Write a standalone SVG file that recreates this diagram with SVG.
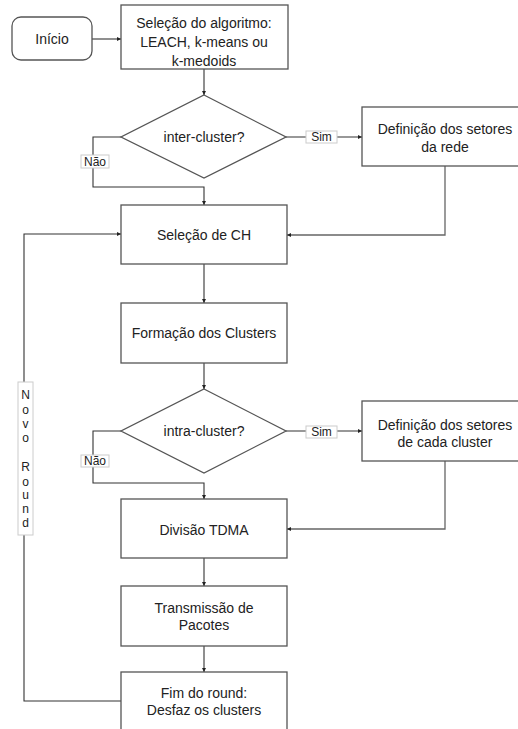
<svg xmlns="http://www.w3.org/2000/svg" width="518" height="729" viewBox="0 0 518 729">
<style>
.box{fill:#fff;stroke:#555;stroke-width:1.3}
.t{font-family:"Liberation Sans",Arial,sans-serif;font-size:14px;fill:#222;text-anchor:middle;dominant-baseline:central}
.lbl{fill:#fff;stroke:#ccc;stroke-width:1}
.lt{font-family:"Liberation Sans",Arial,sans-serif;font-size:12px;fill:#222;text-anchor:middle;dominant-baseline:central}
.c{fill:none;stroke:#333;stroke-width:1.1}
.cg{fill:none;stroke:#666;stroke-width:1.3}
</style>
<defs>
<marker id="a" viewBox="0 0 6 6" refX="6" refY="3" markerWidth="4" markerHeight="4" orient="auto" markerUnits="userSpaceOnUse">
<path d="M0,0 L6,3 L0,6 z" fill="#222"/>
</marker>
</defs>
<g id="connectors">
<path class="c" d="M92,39 H121" marker-end="url(#a)"/>
<path class="c" d="M204,69 V95" marker-end="url(#a)"/>
<path class="c" d="M286,137 H362" marker-end="url(#a)"/>
<path class="c" d="M121,137 H93 V187 H204 V205" marker-end="url(#a)"/>
<path class="cg" d="M445,166 V235 H287" marker-end="url(#a)"/>
<path class="c" d="M204,264 V303" marker-end="url(#a)"/>
<path class="c" d="M204,363 V389" marker-end="url(#a)"/>
<path class="c" d="M286,431 H362" marker-end="url(#a)"/>
<path class="c" d="M121,431 H93 V483 H204 V499" marker-end="url(#a)"/>
<path class="cg" d="M445,461 V529 H287" marker-end="url(#a)"/>
<path class="c" d="M204,558 V586" marker-end="url(#a)"/>
<path class="c" d="M204,646 V672" marker-end="url(#a)"/>
<path class="c" d="M121,701 H24 V234 H121" marker-end="url(#a)"/>
</g>
<g id="inicio"><rect class="box" x="12" y="17" width="80" height="43" rx="9"/><text class="t" x="52" y="39">Início</text></g>
<g id="selecao-algoritmo"><rect class="box" x="121" y="5" width="167" height="64"/><text class="t" x="204" y="23">Seleção do algoritmo:</text><text class="t" x="204" y="42">LEACH, k-means ou</text><text class="t" x="204" y="61">k-medoids</text></g>
<g id="inter-cluster"><polygon class="box" points="204,95 286,137 204,178 121,137"/><text class="t" x="204" y="137">inter-cluster?</text></g>
<g id="sim1"><rect class="lbl" x="306" y="131" width="31" height="12"/><text class="lt" x="321.5" y="137">Sim</text></g>
<g id="nao1"><rect class="lbl" x="81" y="155" width="28" height="13"/><text class="lt" x="95" y="161.5">Não</text></g>
<g id="setores-rede"><rect class="box" x="362" y="107" width="168" height="59"/><text class="t" x="445" y="129">Definição dos setores</text><text class="t" x="445" y="147">da rede</text></g>
<g id="selecao-ch"><rect class="box" x="121" y="205" width="166" height="59"/><text class="t" x="204" y="235">Seleção de CH</text></g>
<g id="formacao"><rect class="box" x="121" y="303" width="166" height="60"/><text class="t" x="204" y="333">Formação dos Clusters</text></g>
<g id="intra-cluster"><polygon class="box" points="204,389 286,431 204,473 121,431"/><text class="t" x="204" y="431">intra-cluster?</text></g>
<g id="sim2"><rect class="lbl" x="306" y="426" width="31" height="12"/><text class="lt" x="321.5" y="432">Sim</text></g>
<g id="nao2"><rect class="lbl" x="81" y="455" width="28" height="12"/><text class="lt" x="95" y="461">Não</text></g>
<g id="setores-cluster"><rect class="box" x="362" y="401" width="168" height="60"/><text class="t" x="445" y="425">Definição dos setores</text><text class="t" x="445" y="442">de cada cluster</text></g>
<g id="tdma"><rect class="box" x="121" y="499" width="166" height="59"/><text class="t" x="204" y="530">Divisão TDMA</text></g>
<g id="transmissao"><rect class="box" x="121" y="586" width="166" height="60"/><text class="t" x="204" y="608">Transmissão de</text><text class="t" x="204" y="625">Pacotes</text></g>
<g id="fim"><rect class="box" x="121" y="672" width="166" height="70"/><text class="t" x="204" y="693">Fim do round:</text><text class="t" x="204" y="710">Desfaz os clusters</text></g>
<g id="novo-round"><rect class="lbl" x="18" y="382" width="15" height="153"/>
<text class="lt" x="25.5" y="395">N</text><text class="lt" x="25.5" y="409.5">o</text><text class="lt" x="25.5" y="423.5">v</text><text class="lt" x="25.5" y="438">o</text><text class="lt" x="25.5" y="467">R</text><text class="lt" x="25.5" y="481.5">o</text><text class="lt" x="25.5" y="495">u</text><text class="lt" x="25.5" y="509">n</text><text class="lt" x="25.5" y="523">d</text></g>
</svg>
